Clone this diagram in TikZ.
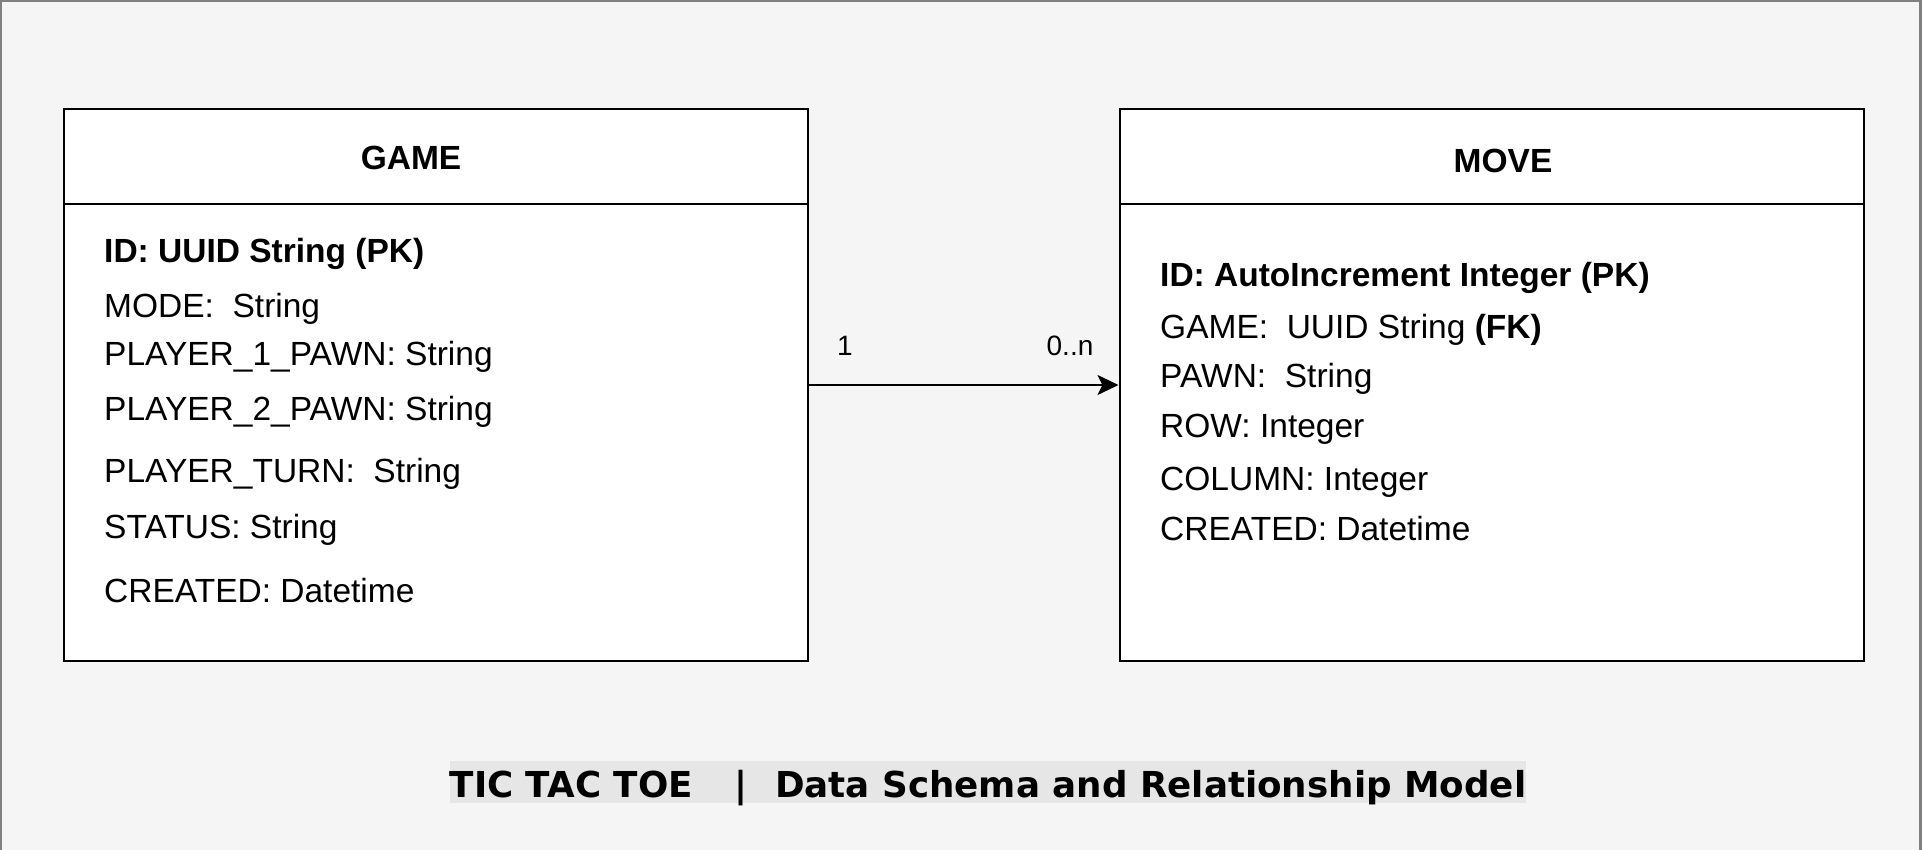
\documentclass[tikz,border=0pt]{standalone}
\usepackage{fontspec}
\setmainfont{Liberation Sans}
\newfontfamily\titlefont{DejaVu Sans}
\usetikzlibrary{arrows.meta}
\definecolor{bgcol}{HTML}{F5F5F5}
\definecolor{framecol}{HTML}{808080}
\definecolor{titlebg}{HTML}{E6E6E6}
\tikzset{
  entity/.style={draw=black, line width=2pt, fill=white, minimum width=744pt, minimum height=552pt, inner sep=0pt},
  headtxt/.style={font=\fontsize{33.5}{40}\selectfont\bfseries, anchor=base, inner sep=0pt},
  attr/.style={font=\fontsize{33.5}{40}\selectfont, anchor=base west, inner sep=0pt},
  mult/.style={font=\fontsize{28}{32}\selectfont, anchor=base, inner sep=0pt},
  conn/.style={line width=2pt, -{Stealth[length=21pt,width=20pt,inset=5pt]}},
}
\begin{document}
\begin{tikzpicture}[x=1pt,y=-1pt]
\useasboundingbox (0,0) rectangle (1922,850);
\fill[bgcol] (0,0) rectangle (1922,850);
\draw[framecol, line width=2.5pt] (1,851) -- (1,1) -- (1920.5,1) -- (1920.5,851);

% GAME entity
\node[entity] (game) at (436,385) {};
\draw[line width=2pt] (game.north west) ++(0,96) -- ++(744,0);
\node[headtxt] (gamet) at (411,170) {GAME};
\node[attr] (g1) at (104,263) {\bfseries ID: UUID String (PK)};
\node[attr] (g2) at (104,317) {MODE:\ \ String};
\node[attr] (g3) at (104,365) {PLAYER\_1\_PAWN: String};
\node[attr] (g4) at (104,420) {PLAYER\_2\_PAWN: String};
\node[attr] (g5) at (104,482) {PLAYER\_TURN:\ \ String};
\node[attr] (g6) at (104,538) {STATUS: String};
\node[attr] (g7) at (104,602) {CREATED: Datetime};

% MOVE entity
\node[entity] (move) at (1491.5,385) {};
\draw[line width=2pt] (move.north west) ++(0,96) -- ++(744,0);
\node[headtxt] (movet) at (1503,173) {MOVE};
\node[attr] (m1) at (1160,287) {\bfseries ID: AutoIncrement Integer (PK)};
\node[attr] (m2) at (1160,338) {GAME:\ \ UUID String \textbf{(FK)}};
\node[attr] (m3) at (1160,387) {PAWN:\ \ String};
\node[attr] (m4) at (1160,437) {ROW: Integer};
\node[attr] (m5) at (1160,490) {COLUMN: Integer};
\node[attr] (m6) at (1160,540) {CREATED: Datetime};

% relationship
\draw[conn] (game.east) -- (move.west);
\node[mult] (one) at (845,355) {1};
\node[mult] (many) at (1070,355) {0..n};

% title
\node[fill=titlebg, inner sep=0pt, text height=36pt, text depth=6pt, anchor=base,
      font=\titlefont\fontsize{35.7}{42}\selectfont\bfseries] (title) at (988,797)
  {TIC TAC TOE\ \ \ \hspace{4pt}|\ \ \hspace{3pt}Data Schema and Relationship Model};
\end{tikzpicture}
\end{document}
